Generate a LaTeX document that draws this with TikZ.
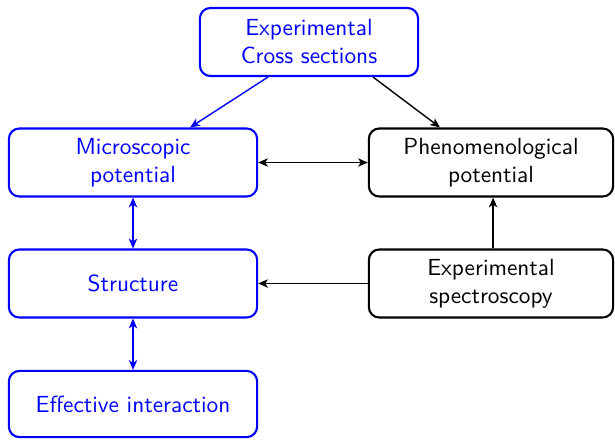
\documentclass[tikz,border=0pt]{standalone}
\usetikzlibrary{arrows.meta,calc}
\begin{document}
\begin{tikzpicture}[x=0.429pt,y=-0.429pt,
  font=\sffamily,
  boxb/.style={draw=blue,text=blue,line width=0.9pt,rounded corners=4.5pt,align=center,inner sep=0pt},
  boxk/.style={draw=black,text=black,line width=0.9pt,rounded corners=4.5pt,align=center,inner sep=0pt},
  arr/.style={line width=0.6pt,-{Stealth[length=4.2pt,width=3.6pt,inset=1.2pt]}},
  darr/.style={line width=0.6pt,{Stealth[length=4.2pt,width=3.6pt,inset=1.2pt]}-{Stealth[length=4.2pt,width=3.6pt,inset=1.2pt]}}]
\useasboundingbox (0,0) rectangle (615,439);
\node[boxb,minimum width=93.6pt,minimum height=29.2pt] (top) at (309,42) {Experimental\\Cross sections};
\node[boxb,minimum width=106.5pt,minimum height=29.2pt] (micro) at (133,162.5) {Microscopic\\potential};
\node[boxk,minimum width=104.8pt,minimum height=29.2pt] (phen) at (491,162.5) {Phenomenological\\potential};
\node[boxb,minimum width=106.5pt,minimum height=29.2pt] (struc) at (133,283.5) {Structure};
\node[boxk,minimum width=104.8pt,minimum height=29.2pt] (spec) at (491,283.5) {Experimental\\spectroscopy};
\node[boxb,minimum width=106.5pt,minimum height=28.4pt] (eff) at (133,404) {Effective interaction};
\draw[arr,blue] ([xshift=-17.6pt]top.south) -- ([xshift=24.5pt]micro.north);
\draw[arr] ([xshift=27.5pt]top.south) -- ([xshift=-21.9pt]phen.north);
\draw[darr] (micro.east) -- (phen.west);
\draw[darr,blue] (micro.south) -- (struc.north);
\draw[darr,blue] (struc.south) -- (eff.north);
\draw[arr] ([xshift=0.9pt]spec.north) -- ([xshift=0.9pt]phen.south);
\draw[arr] (spec.west) -- (struc.east);
\end{tikzpicture}
\end{document}
